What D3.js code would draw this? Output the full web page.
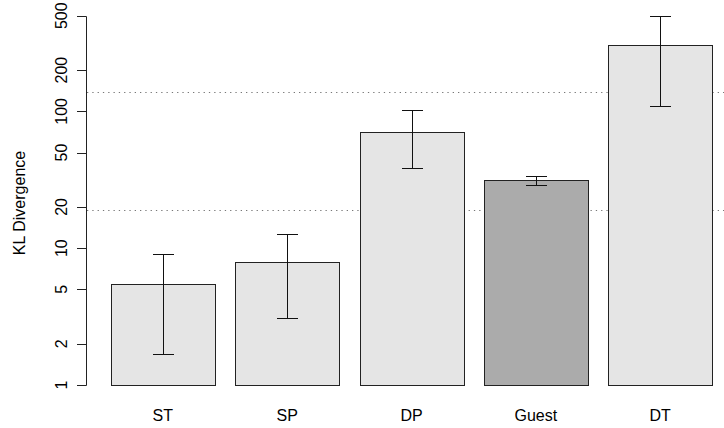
<!DOCTYPE html>
<html lang="en">
<head>
<meta charset="UTF-8">
<title>KL Divergence</title>
<style>
  body { margin: 0; background: #fff; }
  svg { display: block; }
  text { font-family: 'Liberation Sans', Arial, sans-serif; fill: #000; }
</style>
</head>
<body>
<svg id="chart" width="724" height="428"></svg>
<script src="https://cdnjs.cloudflare.com/ajax/libs/d3/7.8.5/d3.min.js"></script>
<script>
// data
const categories = ["ST", "SP", "DP", "Guest", "DT"];
const means = [5.45, 7.9, 70.3, 31.4, 307];
const upper = [9.1, 12.6, 102, 33.9, 500];
const lower = [1.68, 3.1, 38.6, 28.8, 110];
const refLines = [19, 138];
const yTicks = [1, 2, 5, 10, 20, 50, 100, 200, 500];
const highlight = "Guest";

const svg = d3.select("#chart");
const W = 724;

const x = d3.scaleBand()
  .domain(categories)
  .range([111, 712])
  .paddingInner(1 / 6)
  .paddingOuter(0);

const y = d3.scaleLog()
  .domain([1, 500])
  .range([385, 15.7]);

const axisX = 86.5;
const crisp = v => Math.round(v) + 0.5;

// reference lines (dotted)
svg.selectAll("line.ref")
  .data(refLines)
  .enter().append("line")
  .attr("class", "ref")
  .attr("x1", 87).attr("x2", W)
  .attr("y1", d => crisp(y(d))).attr("y2", d => crisp(y(d)))
  .attr("stroke", "#777")
  .attr("stroke-width", 1)
  .attr("stroke-dasharray", "1.3,4");

// bars
const rows = categories.map((c, i) => ({ c, m: means[i], hi: upper[i], lo: lower[i] }));

svg.selectAll("rect.bar")
  .data(rows)
  .enter().append("rect")
  .attr("class", "bar")
  .attr("x", d => crisp(x(d.c)))
  .attr("width", d => Math.round(x.bandwidth()))
  .attr("y", d => crisp(y(d.m)))
  .attr("height", d => Math.round(y(1)) - Math.round(y(d.m)))
  .attr("fill", d => d.c === highlight ? "#ababab" : "#e5e5e5")
  .attr("stroke", "#222")
  .attr("stroke-width", 1);

// error bars
const eb = svg.selectAll("g.err")
  .data(rows)
  .enter().append("g")
  .attr("class", "err")
  .attr("stroke", "#111")
  .attr("stroke-width", 1);

eb.append("line")
  .attr("x1", d => crisp(x(d.c) + x.bandwidth() / 2))
  .attr("x2", d => crisp(x(d.c) + x.bandwidth() / 2))
  .attr("y1", d => crisp(y(d.hi)))
  .attr("y2", d => crisp(y(d.lo)));

eb.selectAll("line.cap")
  .data(d => [d.hi, d.lo].map(v => ({ c: d.c, v })))
  .enter().append("line")
  .attr("class", "cap")
  .attr("x1", d => Math.round(x(d.c) + x.bandwidth() / 2) - 10)
  .attr("x2", d => Math.round(x(d.c) + x.bandwidth() / 2) + 11)
  .attr("y1", d => crisp(y(d.v)))
  .attr("y2", d => crisp(y(d.v)));

// y axis (R style: line spans ticks, labels parallel to axis)
const ya = svg.append("g").attr("stroke", "#222").attr("stroke-width", 1);
ya.append("line")
  .attr("x1", axisX).attr("x2", axisX)
  .attr("y1", crisp(y(500))).attr("y2", crisp(y(1)));
ya.selectAll("line.tick")
  .data(yTicks)
  .enter().append("line")
  .attr("class", "tick")
  .attr("x1", 77).attr("x2", axisX)
  .attr("y1", d => crisp(y(d))).attr("y2", d => crisp(y(d)));

svg.selectAll("text.ytick")
  .data(yTicks)
  .enter().append("text")
  .attr("class", "ytick")
  .attr("transform", d => `translate(67,${y(d)}) rotate(-90)`)
  .attr("text-anchor", "middle")
  .attr("font-size", 16)
  .text(d => d);

svg.append("text")
  .attr("transform", "translate(25,203) rotate(-90)")
  .attr("text-anchor", "middle")
  .attr("font-size", 16)
  .text("KL Divergence");

// category labels
svg.selectAll("text.xlab")
  .data(categories)
  .enter().append("text")
  .attr("class", "xlab")
  .attr("x", d => x(d) + x.bandwidth() / 2)
  .attr("y", 421)
  .attr("text-anchor", "middle")
  .attr("font-size", 16)
  .text(d => d);
</script>
</body>
</html>
